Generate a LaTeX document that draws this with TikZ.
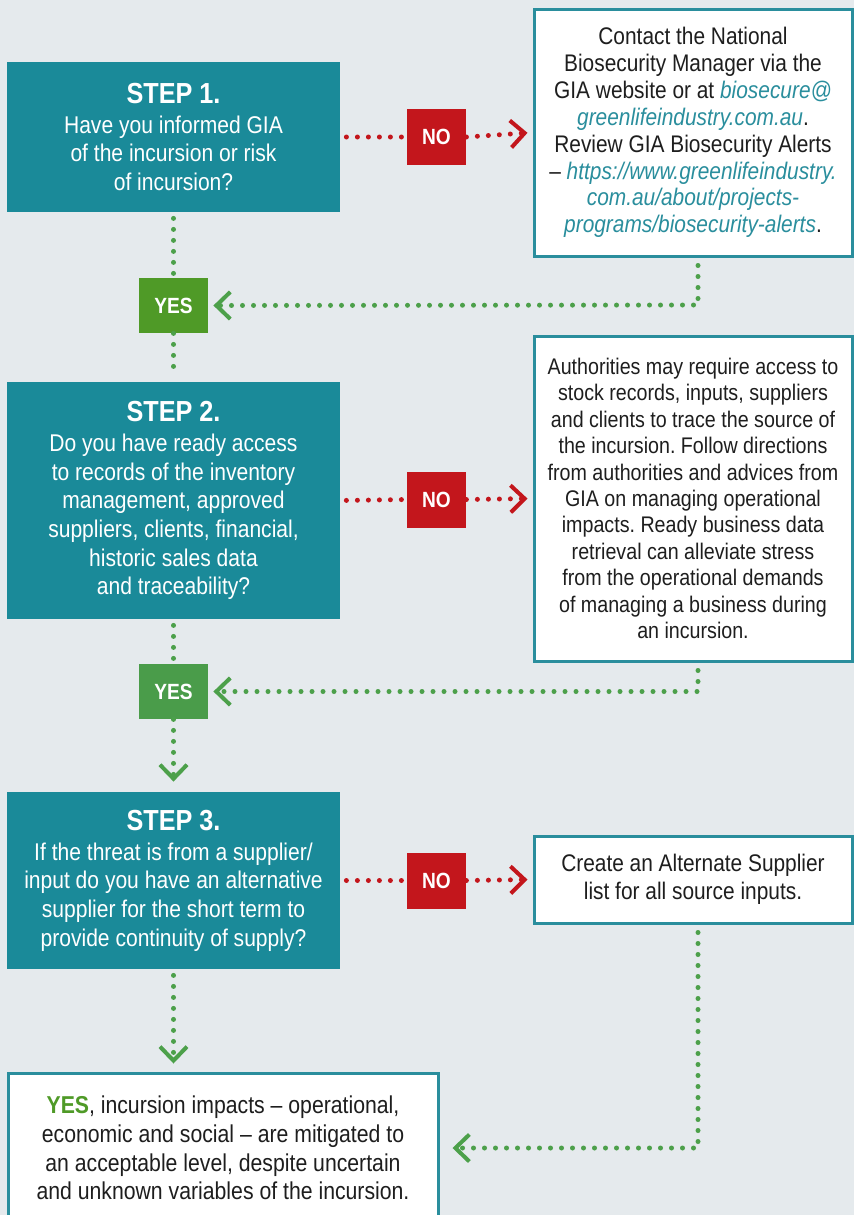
\documentclass[tikz,border=0pt]{standalone}
\usepackage{fontspec}
\setmainfont[FakeStretch=0.87]{Liberation Sans}
\usetikzlibrary{arrows.meta}
\frenchspacing

\definecolor{giabg}{HTML}{E5EAED}
\definecolor{giateal}{HTML}{1A8A99}
\definecolor{giaborder}{HTML}{2A8E9D}
\definecolor{gianored}{HTML}{C3161C}
\definecolor{giayesA}{HTML}{4F9A27}
\definecolor{giayesB}{HTML}{4A9C4A}
\definecolor{giadot}{HTML}{4CA04A}
\definecolor{gialink}{HTML}{2A8E9D}
\definecolor{giatext}{HTML}{1E1E1E}

\newcommand{\lnk}[1]{\textcolor{gialink}{\itshape #1}}
\newcommand{\steptitle}[1]{{\fontsize{14.5}{16}\selectfont\bfseries #1}\\[0.6pt]}

\begin{document}
\begin{tikzpicture}[x=0.5pt, y=-0.5pt,
	stepbox/.style={fill=giateal, text=white, align=center, minimum width=166.5pt, inner sep=0pt, font=\fontsize{12.1}{14.35}\selectfont},
	infobox/.style={draw=giaborder, line width=1.5pt, fill=white, align=center, minimum width=159pt, inner sep=0pt, text=giatext, font=\fontsize{11.3}{13.2}\selectfont},
	nobox/.style={fill=gianored, text=white, minimum width=29.5pt, minimum height=28pt, inner sep=0pt, font=\bfseries\fontsize{11}{12}\selectfont},
	yesbox/.style={text=white, minimum width=34.5pt, minimum height=27.5pt, inner sep=0pt, font=\bfseries\fontsize{11}{12}\selectfont},
	reddots/.style={draw=gianored, line width=2.5pt, line cap=round, dash pattern=on 0pt off 5.5pt},
	greendots/.style={draw=giadot, line width=2.5pt, line cap=round, dash pattern=on 0pt off 5.5pt},
	chevron/.style={-{Straight Barb[length=7pt, width=13.5pt, line width=2pt]}}]
% background
	\fill[giabg] (0,0) rectangle (854,1215);
	\useasboundingbox (0,0) rectangle (854,1215);
% step boxes
	\node[stepbox, minimum height=75pt] (s1) at (173.5,137) {\steptitle{STEP 1.}Have you informed GIA\\of the incursion or risk\\of incursion?};
	\node[stepbox, minimum height=118.5pt] (s2) at (173.5,500.5) {\steptitle{STEP 2.}Do you have ready access\\to records of the inventory\\management, approved\\suppliers, clients, financial,\\historic sales data\\and traceability?};
	\node[stepbox, minimum height=88.5pt] (s3) at (173.5,880.5) {\steptitle{STEP 3.}If the threat is from a supplier/\\input do you have an alternative\\supplier for the short term to\\provide continuity of supply?};
% answer boxes
	\node[nobox] (no1) at (436.5,137) {NO};
	\node[nobox] (no2) at (436.5,499.5) {NO};
	\node[nobox] (no3) at (436.5,880.5) {NO};
	\node[yesbox, fill=giayesA] (yes1) at (173.5,305.5) {YES};
	\node[yesbox, fill=giayesB] (yes2) at (173.5,691.5) {YES};
% info boxes
	\node[infobox, minimum height=123.5pt, font=\fontsize{12}{13.45}\selectfont] (r1) at (693,132.5) {Contact the National\\Biosecurity Manager via the\\GIA website or at \lnk{biosecure@}\\\lnk{greenlifeindustry.com.au}.\\Review GIA Biosecurity Alerts\\-- \lnk{https://www.greenlifeindustry.}\\\lnk{com.au/about/projects-}\\\lnk{programs/biosecurity-alerts}.};
	\node[infobox, minimum height=162.5pt] (r2) at (693,498.5) {Authorities may require access to\\stock records, inputs, suppliers\\and clients to trace the source of\\the incursion. Follow directions\\from authorities and advices from\\GIA on managing operational\\impacts. Ready business data\\retrieval can alleviate stress\\from the operational demands\\of managing a business during\\an incursion.};
	\node[infobox, minimum height=43.5pt, font=\fontsize{12}{14}\selectfont] (r3) at (693,879.5) {Create an Alternate Supplier\\list for all source inputs.};
	\node[infobox, minimum width=215pt, minimum height=75pt, font=\fontsize{12.2}{14.3}\selectfont] (fin) at (223,1148) {\textcolor{giayesA}{\bfseries YES}, incursion impacts -- operational,\\economic and social -- are mitigated to\\an acceptable level, despite uncertain\\and unknown variables of the incursion.};
% turning points
	\coordinate (t1) at (698,305);
	\coordinate (t2) at (698,691.5);
	\coordinate (t3) at (698,1148);
% NO connectors
	\draw[reddots, shorten <=3pt] (s1.east) -- (no1.west);
	\draw[reddots, chevron, shorten >=2.5pt] (no1.east) -- (r1.west);
	\draw[reddots, shorten <=3pt] (s2.east) -- (no2.west);
	\draw[reddots, chevron, shorten >=2.5pt] (no2.east) -- (r2.west);
	\draw[reddots, shorten <=3pt] (s3.east) -- (no3.west);
	\draw[reddots, chevron, shorten >=2.5pt] (no3.east) -- (r3.west);
% YES connectors
	\draw[greendots, shorten <=3pt] (s1.south) -- (yes1.north);
	\draw[greendots, shorten >=3pt] (yes1.south) -- (s2.north);
	\draw[greendots, shorten <=3pt] (s2.south) -- (yes2.north);
	\draw[greendots, chevron, shorten >=5pt] (yes2.south) -- (s3.north);
	\draw[greendots, chevron, shorten <=3pt, shorten >=4pt] (s3.south) -- (s3.south |- fin.north);
% return connectors
	\draw[greendots, chevron, shorten <=4pt, shorten >=2.5pt] (r1.south -| t1) -- (t1) -- (yes1.east);
	\draw[greendots, chevron, shorten <=4pt, shorten >=2.5pt] (r2.south -| t2) -- (t2) -- (yes2.east);
	\draw[greendots, chevron, shorten <=4pt, shorten >=6.5pt] (r3.south -| t3) -- (t3) -- (fin.east);
\end{tikzpicture}
\end{document}
